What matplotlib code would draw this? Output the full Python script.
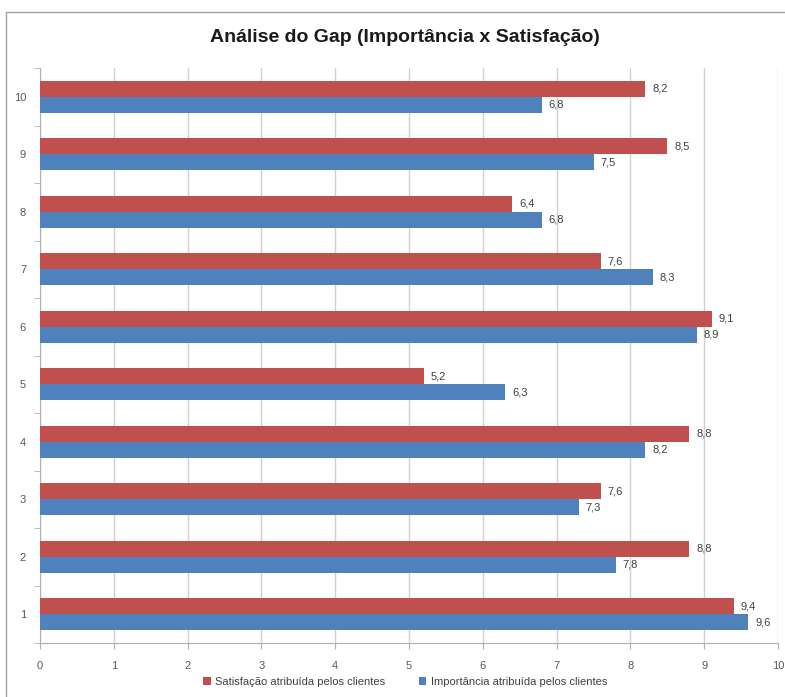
import matplotlib.pyplot as plt
from matplotlib.patches import Rectangle

categories = ["1", "2", "3", "4", "5", "6", "7", "8", "9", "10"]
satisfacao = [9.4, 8.8, 7.6, 8.8, 5.2, 9.1, 7.6, 6.4, 8.5, 8.2]
importancia = [9.6, 7.8, 7.3, 8.2, 6.3, 8.9, 8.3, 6.8, 7.5, 6.8]

plt.rcParams['font.family'] = ['Liberation Sans', 'DejaVu Sans']

RED = "#C0504D"
BLUE = "#4F81BD"

fig = plt.figure(figsize=(7.85, 6.97), dpi=100)
fig.patches.append(Rectangle((6 / 785, -10 / 697), 790 / 785, 695 / 697,
                             transform=fig.transFigure, fill=False,
                             edgecolor="#A0A0A0", linewidth=1))
ax = fig.add_axes([40 / 785, 54 / 697, 738 / 785, 575 / 697])

h = 0.28
pos = list(range(1, len(categories) + 1))
b_red = ax.barh([p + h / 2 for p in pos], satisfacao, height=h, color=RED,
                label="Satisfação atribuída pelos clientes", zorder=3)
b_blue = ax.barh([p - h / 2 for p in pos], importancia, height=h, color=BLUE,
                 label="Importância atribuída pelos clientes", zorder=3)

for bars, vals in ((b_red, satisfacao), (b_blue, importancia)):
    labels = [f"{v:.1f}".replace(".", ",") for v in vals]
    ax.bar_label(bars, labels=labels, padding=5, fontsize=8, color="#404040")

ax.set_xlim(0, 10)
ax.set_ylim(0.5, 10.5)
ax.set_xticks(range(0, 11))
ax.set_yticks(pos)
ax.set_yticklabels(categories)
ax.grid(axis="x", color="#D0D0D0", linewidth=1, zorder=0)
for s in ("top", "right"):
    ax.spines[s].set_visible(False)
for s in ("left", "bottom"):
    ax.spines[s].set_color("#B0B0B0")
ax.tick_params(axis="both", colors="#B0B0B0", labelcolor="#595959",
               labelsize=8, length=4, direction="out")
ax.tick_params(axis="x", pad=9)
ax.tick_params(axis="y", pad=10)
ax.set_yticks([p + 0.5 for p in range(0, 11)], minor=True)
ax.tick_params(axis="y", which="major", length=0)
ax.tick_params(axis="y", which="minor", length=4, color="#B0B0B0")

fig.text(405 / 785, 1 - 38 / 697, "Análise do Gap (Importância x Satisfação)",
         ha="center", va="center", fontsize=14, fontweight="bold", color="#1a1a1a")

handles, lbls = ax.get_legend_handles_labels()
fig.legend(handles, lbls, loc="center", bbox_to_anchor=(405 / 785, 1 - 682 / 697),
           ncol=2, frameon=False, fontsize=8, handlelength=0.7, handleheight=0.7,
           columnspacing=3, handletextpad=0.4, labelcolor="#404040")

fig.savefig("out.png", dpi=100)
